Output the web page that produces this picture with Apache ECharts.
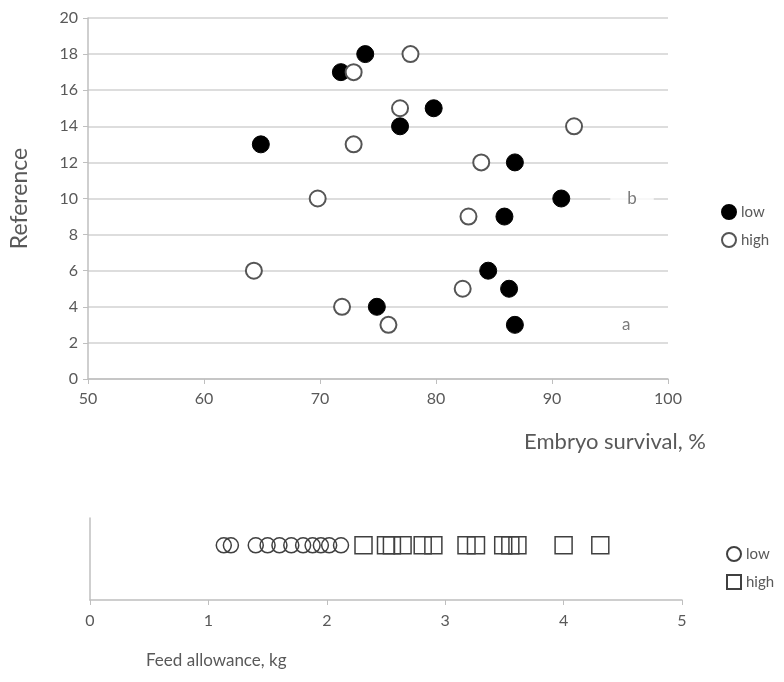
<!DOCTYPE html>
<html>
<head>
<meta charset="utf-8">
<script src="https://cdn.jsdelivr.net/npm/echarts@6/dist/echarts.min.js"></script>
<style>
html,body{margin:0;padding:0;background:#fff;}
#main{width:784px;height:682px;}
</style>
</head>
<body>
<div id="main"></div>
<script>
// embryo survival (top chart)
var lowSurvival = [73.9, 71.8, 79.8, 76.9, 64.9, 86.8, 90.8, 85.9, 84.5, 86.3, 74.9, 86.8];
var lowRef = [18, 17, 15, 14, 13, 12, 10, 9, 6, 5, 4, 3];
var highSurvival = [77.8, 72.9, 76.9, 91.9, 72.9, 83.9, 69.8, 82.8, 64.3, 82.3, 71.9, 75.9];
var highRef = [18, 17, 15, 14, 13, 12, 10, 9, 6, 5, 4, 3];
// letters next to the points
var noteText = ['b', 'a'];
var noteX = [96.9, 96.4];
var noteY = [10, 3];

// feed allowance (bottom chart)
var lowFeed = [1.13, 1.19, 1.40, 1.50, 1.60, 1.70, 1.80, 1.88, 1.95, 2.02, 2.12];
var highFeed = [2.31, 2.50, 2.55, 2.64, 2.81, 2.90, 3.18, 3.26, 3.49, 3.55, 3.61, 4.00, 4.31];
var feedLevel = 1;

function pairs(xs, ys){
	var out = [];
	for (var i = 0; i < xs.length; i++) {
		out.push([xs[i], Array.isArray(ys) ? ys[i] : ys]);
	}
	return out;
}

var txt = '#595959';
var axisCol = '#bfbfbf';
var font = 'Lato, "Open Sans", sans-serif';

var myChart = echarts.init(document.getElementById('main'));
var option = {
	animation: false,
	textStyle: {fontFamily: font},
	grid: [
		{left: 88, right: 116, top: 18, height: 361},
		{left: 90, right: 102, top: 518, height: 82}
	],
	legend: [
		{
			data: ['low', 'high'],
			orient: 'vertical',
			left: 716, top: 199,
			itemWidth: 14, itemHeight: 14, itemGap: 12,
			textStyle: {color: txt, fontSize: 15, fontFamily: font},
			selectedMode: false
		},
		{
			data: ['low2', 'high2'],
			orient: 'vertical',
			left: 721, top: 541,
			itemWidth: 14, itemHeight: 14, itemGap: 12,
			formatter: function (n) { return n.replace('2', ''); },
			textStyle: {color: txt, fontSize: 15, fontFamily: font},
			selectedMode: false
		}
	],
	xAxis: [
		{
			gridIndex: 0, type: 'value', min: 50, max: 100, interval: 10,
			name: 'Embryo survival, %',
			nameLocation: 'end', nameGap: 38,
			nameTextStyle: {color: txt, fontSize: 22, align: 'right', verticalAlign: 'top', padding: [52, 0, 0, 0]},
			axisLine: {show: true, lineStyle: {color: axisCol, width: 1.5}},
			axisTick: {show: true, length: 5, lineStyle: {color: axisCol}},
			axisLabel: {color: txt, fontSize: 16, margin: 12},
			splitLine: {show: false}
		},
		{
			gridIndex: 1, type: 'value', min: 0, max: 5, interval: 1,
			name: 'Feed allowance, kg',
			nameLocation: 'start', nameGap: -56,
			nameTextStyle: {color: txt, fontSize: 17, align: 'left', verticalAlign: 'top', padding: [52, 0, 0, 0]},
			axisLine: {show: true, lineStyle: {color: axisCol, width: 1.5}},
			axisTick: {show: true, length: 5, lineStyle: {color: axisCol}},
			axisLabel: {color: txt, fontSize: 16, margin: 13},
			splitLine: {show: false}
		}
	],
	yAxis: [
		{
			gridIndex: 0, type: 'value', min: 0, max: 20, interval: 2,
			name: 'Reference',
			nameLocation: 'middle', nameGap: 57,
			nameTextStyle: {color: txt, fontSize: 23},
			axisLine: {show: true, lineStyle: {color: axisCol, width: 1.5}},
			axisTick: {show: true, length: 5, lineStyle: {color: axisCol}},
			axisLabel: {color: txt, fontSize: 16, margin: 10},
			splitLine: {show: true, lineStyle: {color: '#d2d2d2', width: 1.5}}
		},
		{
			gridIndex: 1, type: 'value', min: 0, max: 1.5,
			axisLine: {show: true, lineStyle: {color: axisCol, width: 1.5}},
			axisTick: {show: false},
			axisLabel: {show: false},
			splitLine: {show: false}
		}
	],
	series: [
		{
			name: 'low', type: 'scatter', xAxisIndex: 0, yAxisIndex: 0,
			symbol: 'circle', symbolSize: 17,
			itemStyle: {color: '#000', borderColor: '#000', borderWidth: 1, opacity: 1},
			data: pairs(lowSurvival, lowRef)
		},
		{
			name: 'high', type: 'scatter', xAxisIndex: 0, yAxisIndex: 0,
			symbol: 'circle', symbolSize: 16,
			itemStyle: {color: '#fff', borderColor: '#555', borderWidth: 2, opacity: 1},
			data: pairs(highSurvival, highRef)
		},
		{
			name: 'notes', type: 'scatter', xAxisIndex: 0, yAxisIndex: 0,
			symbolSize: 0, silent: true,
			label: {
				show: true, position: 'inside',
				formatter: function (p) { return noteText[p.dataIndex]; },
				color: txt, fontSize: 17, fontFamily: font,
				backgroundColor: '#fff', padding: [2, 17]
			},
			data: pairs(noteX, noteY)
		},
		{
			name: 'low2', type: 'scatter', xAxisIndex: 1, yAxisIndex: 1,
			symbol: 'circle', symbolSize: 15,
			itemStyle: {color: 'rgba(255,255,255,0)', borderColor: '#404040', borderWidth: 1.5, opacity: 1},
			data: pairs(lowFeed, feedLevel)
		},
		{
			name: 'high2', type: 'scatter', xAxisIndex: 1, yAxisIndex: 1,
			symbol: 'rect', symbolSize: 17,
			itemStyle: {color: 'rgba(255,255,255,0)', borderColor: '#404040', borderWidth: 1.5, opacity: 1},
			data: pairs(highFeed, feedLevel)
		}
	]
};
myChart.setOption(option);
</script>
</body>
</html>
